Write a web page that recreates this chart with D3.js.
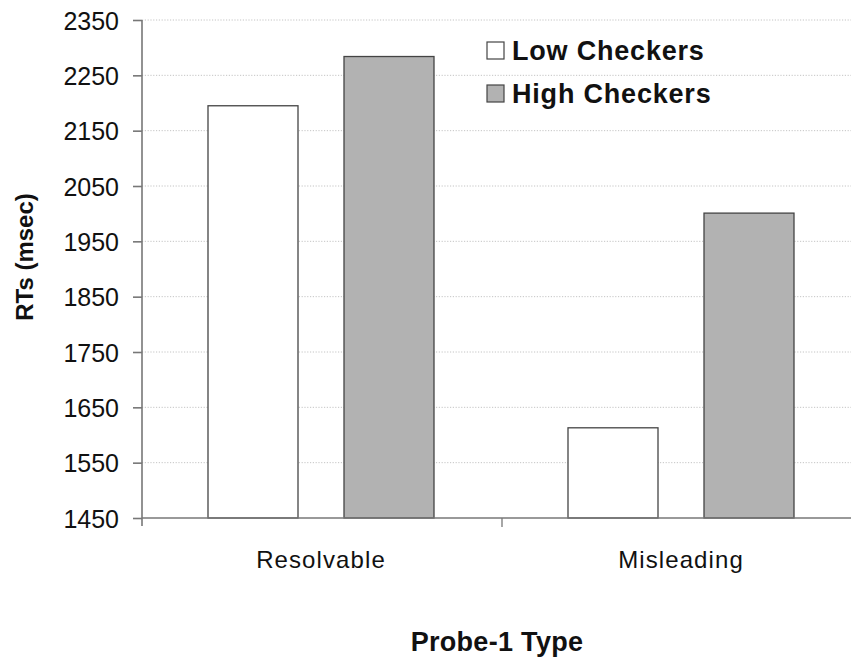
<!DOCTYPE html>
<html>
<head>
<meta charset="utf-8">
<script src="https://cdn.jsdelivr.net/npm/d3@7"></script>
<style>
  html, body { margin: 0; padding: 0; background: #fff; }
  svg { display: block; font-family: Arial, "Liberation Sans", sans-serif; }
</style>
</head>
<body>
<svg id="chart" width="851" height="659"></svg>
<script>
const categories = ["Resolvable", "Misleading"];
const seriesNames = ["Low Checkers", "High Checkers"];
const lowValues = [2195, 1613];
const highValues = [2284, 2001];
const yTicks = [1450, 1550, 1650, 1750, 1850, 1950, 2050, 2150, 2250, 2350];
const seriesFill = ["#ffffff", "#b2b2b2"];

const svg = d3.select("#chart");
const W = 851;
const plotLeft = 142, plotTop = 20, plotBottom = 518;

const y = d3.scaleLinear().domain([1450, 2350]).range([plotBottom, plotTop]);
const x0 = d3.scaleBand().domain(categories).range([plotLeft, plotLeft + 720]).padding(0);
const x1 = d3.scaleBand().domain(seriesNames).range([66, 292]).paddingInner(46 / 136).paddingOuter(0);

// gridlines
svg.append("g").selectAll("line")
  .data(yTicks.filter(t => t !== 1450))
  .join("line")
  .attr("x1", plotLeft).attr("x2", W)
  .attr("y1", d => y(d)).attr("y2", d => y(d))
  .attr("stroke", "#c4c4c4").attr("stroke-width", 1)
  .attr("stroke-dasharray", "1.2,1.6");

// bars
const data = categories.map((c, i) => ({
  cat: c,
  vals: [
    { s: seriesNames[0], v: lowValues[i], fill: seriesFill[0] },
    { s: seriesNames[1], v: highValues[i], fill: seriesFill[1] }
  ]
}));
const groups = svg.append("g").selectAll("g")
  .data(data).join("g")
  .attr("transform", d => `translate(${x0(d.cat)},0)`);
groups.selectAll("rect")
  .data(d => d.vals).join("rect")
  .attr("x", d => x1(d.s))
  .attr("width", x1.bandwidth())
  .attr("y", d => y(d.v))
  .attr("height", d => y(1450) - y(d.v))
  .attr("fill", d => d.fill)
  .attr("stroke", "#444").attr("stroke-width", 1.3);

// y axis
const yAxis = svg.append("g")
  .attr("transform", `translate(${plotLeft},0)`)
  .call(d3.axisLeft(y).tickValues(yTicks).tickSize(9).tickPadding(14).tickFormat(d3.format("d")));
yAxis.select(".domain").attr("stroke", "#777").attr("stroke-width", 1.6).attr("d", `M0,${plotTop}V${plotBottom + 8}`);
yAxis.selectAll(".tick line").attr("stroke", "#777").attr("stroke-width", 1.6);
yAxis.selectAll(".tick text").attr("font-size", 25).attr("fill", "#111")
  .attr("font-family", "Arial, 'Liberation Sans', sans-serif").attr("dy", "0.36em");

// x axis
const xAxisG = svg.append("g").attr("transform", `translate(0,${plotBottom})`);
xAxisG.append("line").attr("x1", plotLeft).attr("x2", W).attr("y1", 0).attr("y2", 0)
  .attr("stroke", "#777").attr("stroke-width", 1.6);
xAxisG.selectAll("line.sep")
  .data(categories.slice(1)).join("line").attr("class", "sep")
  .attr("x1", d => x0(d)).attr("x2", d => x0(d))
  .attr("y1", 0).attr("y2", 9)
  .attr("stroke", "#777").attr("stroke-width", 1.3);
xAxisG.selectAll("text")
  .data(categories).join("text")
  .attr("x", d => x0(d) + x0.bandwidth() / 2 - 1)
  .attr("y", 50)
  .attr("text-anchor", "middle")
  .attr("font-size", 24).attr("letter-spacing", 1.1).attr("fill", "#111")
  .text(d => d);

// axis titles
svg.append("text")
  .attr("x", 497).attr("y", 651)
  .attr("text-anchor", "middle")
  .attr("font-size", 27).attr("font-weight", "bold").attr("letter-spacing", 0.3).attr("fill", "#111")
  .text("Probe-1 Type");
svg.append("text")
  .attr("transform", "translate(33,257) rotate(-90)")
  .attr("text-anchor", "middle")
  .attr("font-size", 24).attr("font-weight", "bold").attr("fill", "#111")
  .text("RTs (msec)");

// legend
const legend = svg.append("g").selectAll("g")
  .data(seriesNames).join("g")
  .attr("transform", (d, i) => `translate(487,${42 + i * 43})`);
legend.append("rect")
  .attr("width", 17).attr("height", 17)
  .attr("fill", (d, i) => seriesFill[i])
  .attr("stroke", "#444").attr("stroke-width", 1.2);
legend.append("text")
  .attr("x", 25).attr("y", 17.5)
  .attr("font-size", 27).attr("font-weight", "bold").attr("letter-spacing", 0.8).attr("fill", "#111")
  .text(d => d);
</script>
</body>
</html>
